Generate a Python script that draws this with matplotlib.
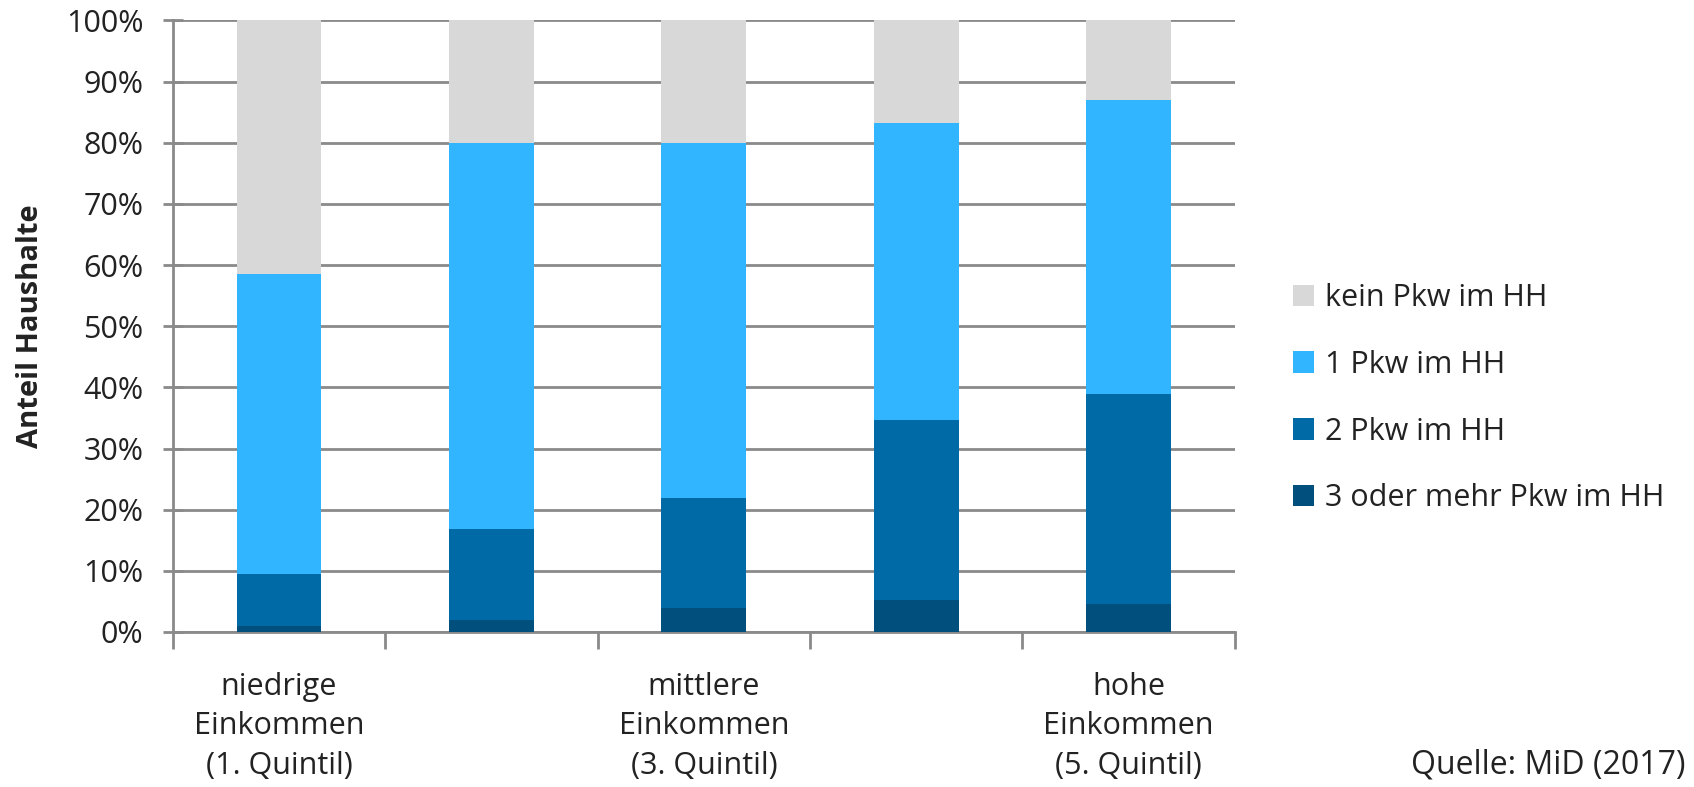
import matplotlib
matplotlib.use("Agg")
import matplotlib.pyplot as plt
import numpy as np

categories = ["niedrige\nEinkommen\n(1. Quintil)", "", "mittlere\nEinkommen\n(3. Quintil)", "", "hohe\nEinkommen\n(5. Quintil)"]
series_names = ["3 oder mehr Pkw im HH", "2 Pkw im HH", "1 Pkw im HH", "kein Pkw im HH"]
pkw3 = [1.0, 1.9, 4.0, 5.3, 4.6]
pkw2 = [8.4, 14.9, 17.9, 29.4, 34.3]
pkw1 = [49.1, 63.1, 58.0, 48.6, 48.1]
kein = [41.5, 20.1, 20.1, 16.7, 13.0]
colors = ["#004F7C", "#006AA6", "#31B5FE", "#D8D8D8"]
yticks = [0, 10, 20, 30, 40, 50, 60, 70, 80, 90, 100]

plt.rcParams['font.family'] = ['Open Sans', 'DejaVu Sans']
fig = plt.figure(figsize=(16.94, 7.87), dpi=100)
ax = fig.add_axes([0.102, 0.197, 0.627, 0.777])

x = np.arange(len(categories))
bottom = np.zeros(len(categories))
handles = []
for vals, name, c in zip([pkw3, pkw2, pkw1, kein], series_names, colors):
    h = ax.bar(x, vals, 0.4, bottom=bottom, color=c, label=name, zorder=3)
    handles.append(h)
    bottom += np.array(vals)

gc = "#8A8A8A"
tc = "#222222"
fs = 22
ax.set_ylim(0, 100)
ax.set_xlim(-0.5, len(categories) - 0.5)
ax.set_yticks(yticks)
ax.set_yticklabels([f"{t}%" for t in yticks], fontsize=fs, color=tc)
ax.yaxis.grid(True, color=gc, linewidth=2, zorder=0)
ax.tick_params(axis='y', direction='inout', length=14, width=2, color=gc, pad=14)

ax.set_xticks(np.arange(-0.5, len(categories), 1.0))
ax.set_xticklabels([])
ax.tick_params(axis='x', which='major', direction='out', length=12, width=2, color=gc)
ax.set_xticks(x, minor=True)
ax.set_xticklabels(categories, minor=True, fontsize=fs, color=tc, linespacing=1.4)
ax.tick_params(axis='x', which='minor', length=0, pad=29)

for s in ['top', 'right']:
    ax.spines[s].set_visible(False)
for s in ['left', 'bottom']:
    ax.spines[s].set_color(gc)
    ax.spines[s].set_linewidth(2)

ax.set_ylabel("Anteil Haushalte", fontsize=21, fontweight='bold', color=tc)
ax.yaxis.set_label_coords(-0.12, 0.5)

leg = fig.legend(handles[::-1], series_names[::-1], loc='center left',
                 bbox_to_anchor=(0.747, 0.494), frameon=False, fontsize=fs,
                 handlelength=0.7, handleheight=0.7, handletextpad=0.35,
                 labelspacing=1.2, labelcolor=tc)

fig.text(0.995, 0.028, "Quelle: MiD (2017)", ha='right', va='center', fontsize=23, color=tc)

fig.savefig("out.png", dpi=100)
